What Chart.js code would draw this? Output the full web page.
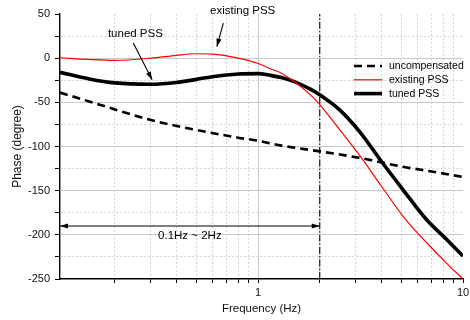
<!DOCTYPE html>
<html>
<head>
<meta charset="utf-8">
<script src="https://cdn.jsdelivr.net/npm/chart.js@4/dist/chart.umd.min.js"></script>
<style>
  html, body { margin: 0; padding: 0; background: #fff; }
  #wrap { width: 470px; height: 320px; }
</style>
</head>
<body>
<div id="wrap"><canvas id="c" width="470" height="320"></canvas></div>
<script>
// frequencies (Hz) and phase values (degree)
var FREQ_UNCOMP = [0.108, 0.15, 0.2, 0.3, 0.48, 0.8, 1.0, 1.3, 2.0, 3.15, 5.1, 6.9, 10];
var UNCOMP      = [-39, -49, -58, -70, -80.5, -90, -93.5, -99, -105.5, -113, -123, -128, -134.5];

var FREQ_PSS = [0.108, 0.15, 0.2, 0.3, 0.4, 0.5, 0.6, 0.8, 1.0, 1.15, 1.3, 1.5, 1.8, 2.0, 2.5, 3.15, 4.0, 5.1, 6.65, 8.3, 10];
var EXISTING = [0.5, -1.5, -2.5, 0, 3.2, 5, 4.6, 0, -6, -12, -17, -26.5, -41.5, -52.5, -81, -111, -145, -179, -209, -232, -250];
var TUNED    = [-16, -23.5, -28, -29.5, -27.5, -24, -21, -18, -17.5, -19.5, -22, -26.5, -35, -41.5, -58.5, -84, -117, -149, -183, -205, -224];

var SERIES_NAMES = ['uncompensated', 'existing PSS', 'tuned PSS'];
var BAND = [0.1, 2];           // 0.1Hz ~ 2Hz band, right edge drawn as dash-dot line
var X_TICKS = [0.2, 0.3, 0.4, 0.5, 0.6, 0.7, 0.8, 0.9, 1, 2, 3, 4, 5, 6, 7, 8, 9, 10];
var X_LABELS = { 1: '1', 10: '10' };
var Y_MIN = -250, Y_MAX = 50, Y_STEP = 25;

function pts(xs, ys) {
  return xs.map(function (x, i) { return { x: x, y: ys[i] }; });
}

var FONT = 'Liberation Sans, Arial, sans-serif';

function isDecade(v) {
  var l = Math.log10(v);
  return Math.abs(l - Math.round(l)) < 1e-9;
}

function arrow(ctx, a, b, both) {
  ctx.beginPath();
  ctx.moveTo(a[0], a[1]);
  ctx.lineTo(b[0], b[1]);
  ctx.stroke();
  head(ctx, a, b);
  if (both) head(ctx, b, a);
}
function head(ctx, a, b) {
  var ang = Math.atan2(b[1] - a[1], b[0] - a[0]);
  var L = 8, W = 2.6;
  ctx.save();
  ctx.translate(b[0], b[1]);
  ctx.rotate(ang);
  ctx.beginPath();
  ctx.moveTo(0, 0);
  ctx.lineTo(-L, -W);
  ctx.lineTo(-L, W);
  ctx.closePath();
  ctx.fill();
  ctx.restore();
}

/* texto, flechas y leyenda */
var notesPlugin = {
  id: 'notes',
  afterDatasetsDraw: function (chart, args, opts) {
    var ctx = chart.ctx, xs = chart.scales.x, ys = chart.scales.y;
    function px(p) { return [xs.getPixelForValue(p[0]), ys.getPixelForValue(p[1])]; }
    ctx.save();
    ctx.fillStyle = '#000';
    ctx.strokeStyle = '#000';
    ctx.lineWidth = 1.1;
    ctx.font = '11.5px ' + FONT;
    ctx.textBaseline = 'middle';
    ctx.textAlign = 'left';
    opts.texts.forEach(function (t) {
      var p = px(t.at);
      ctx.fillText(t.text, p[0], p[1]);
    });
    opts.arrows.forEach(function (a) {
      var from = a.from.slice(), to = a.to.slice();
      if (from[0] === 'min') from[0] = xs.min;
      arrow(ctx, px(from), px(to), a.both);
    });

    // leyenda
    var lx = 354, ly = 66, len = 28, gap = 13.8;
    ctx.font = '10.5px ' + FONT;
    for (var i = 0; i < 3; i++) {
      var ds = chart.data.datasets[i];
      var y = ly + i * gap;
      ctx.save();
      ctx.strokeStyle = ds.borderColor;
      ctx.lineWidth = ds.borderWidth;
      ctx.setLineDash(ds.borderDash || []);
      ctx.beginPath();
      ctx.moveTo(lx, y);
      ctx.lineTo(lx + len, y);
      ctx.stroke();
      ctx.restore();
      ctx.fillStyle = '#000';
      ctx.fillText(ds.label, lx + len + 7, y + 0.5);
    }
    ctx.restore();
  }
};

new Chart(document.getElementById('c'), {
  type: 'line',
  data: {
    datasets: [
      {
        label: SERIES_NAMES[0], data: pts(FREQ_UNCOMP, UNCOMP),
        borderColor: '#000', borderWidth: 2.6, borderDash: [8, 5]
      },
      {
        label: SERIES_NAMES[1], data: pts(FREQ_PSS, EXISTING),
        borderColor: '#ff0000', borderWidth: 1.2
      },
      {
        label: SERIES_NAMES[2], data: pts(FREQ_PSS, TUNED),
        borderColor: '#000', borderWidth: 3.6
      },
      {
        label: 'band', data: [{ x: BAND[1], y: Y_MIN }, { x: BAND[1], y: Y_MAX }],
        borderColor: '#000', borderWidth: 1.1, borderDash: [7, 2, 1.5, 2]
      }
    ]
  },
  options: {
    responsive: false,
    animation: false,
    layout: { padding: { top: 14, right: 7, left: 0, bottom: 0 } },
    elements: {
      point: { radius: 0 },
      line: { cubicInterpolationMode: 'monotone', fill: false }
    },
    plugins: {
      legend: { display: false },
      tooltip: { enabled: false },
      notes: {
        texts: [
          { text: 'tuned PSS', at: [0.185, 28] },
          { text: 'existing PSS', at: [0.583, 53.5] },
          { text: '0.1Hz ~ 2Hz', at: [0.325, -201] }
        ],
        arrows: [
          { from: [0.246, 17.3], to: [0.304, -24.5] },
          { from: [0.677, 39.6], to: [0.629, 13.1] },
          { from: ['min', -190], to: [BAND[1], -190], both: true }
        ]
      }
    },
    scales: {
      x: {
        type: 'logarithmic',
        min: 0.108,
        max: 10,
        afterBuildTicks: function (scale) {
          scale.ticks = X_TICKS.map(function (v) { return { value: v }; });
        },
        afterFit: function (scale) {
          scale.height = 41;
          scale.paddingRight = 0;
          scale.paddingLeft = 0;
        },
        ticks: {
          autoSkip: false, maxRotation: 0, padding: 3,
          color: '#111', font: { family: FONT, size: 11 },
          callback: function (v) { return X_LABELS[v] || ''; }
        },
        grid: {
          color: function (c) {
            if (!c.tick || c.tick.value >= 10) return 'rgba(0,0,0,0)';
            return isDecade(c.tick.value) ? '#c8c8c8' : '#d4d4d4';
          },
          lineWidth: 1,
          tickColor: '#000', tickLength: 4, tickWidth: 1
        },
        border: {
          color: '#000', width: 1.4,
          dash: function (c) {
            if (!c.tick) return [];
            return isDecade(c.tick.value) ? [] : [2, 2];
          }
        },
        title: {
          display: true, text: 'Frequency (Hz)', color: '#111',
          font: { family: FONT, size: 11.5 }, padding: { top: 0, bottom: 4 }
        }
      },
      y: {
        min: Y_MIN, max: Y_MAX,
        afterFit: function (scale) { scale.width = 60; },
        ticks: {
          stepSize: Y_STEP, padding: 5,
          color: '#111', font: { family: FONT, size: 11 },
          callback: function (v) { return v % 50 === 0 ? String(v) : ''; }
        },
        grid: {
          color: function (c) {
            if (!c.tick || c.tick.value === Y_MAX || c.tick.value === Y_MIN) return 'rgba(0,0,0,0)';
            return c.tick.value % 50 === 0 ? '#c8c8c8' : '#d4d4d4';
          },
          lineWidth: 1,
          tickColor: '#000', tickLength: 5, tickWidth: 1
        },
        border: {
          color: '#000', width: 1.4,
          dash: function (c) {
            if (!c.tick) return [];
            return c.tick.value % 50 === 0 ? [] : [2, 2];
          }
        },
        title: {
          display: true, text: 'Phase (degree)', color: '#111',
          font: { family: FONT, size: 12 }, padding: { top: 10, bottom: 0 }
        }
      }
    }
  },
  plugins: [notesPlugin]
});
</script>
</body>
</html>
